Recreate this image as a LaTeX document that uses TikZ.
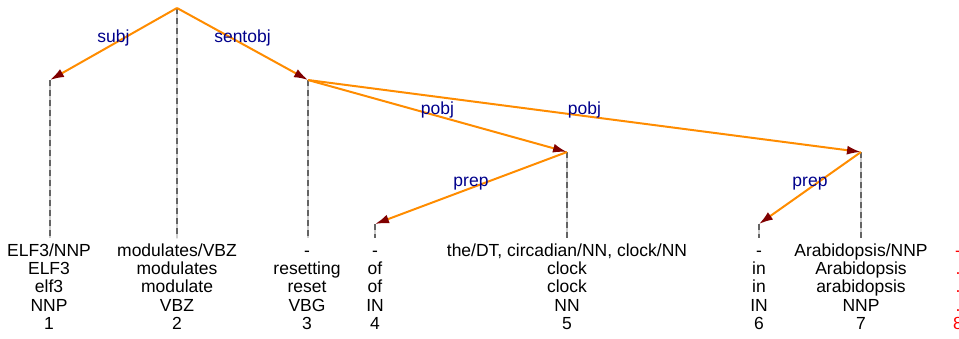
\documentclass[tikz,border=0pt]{standalone}
\usepackage{fontspec}
\setmainfont{Liberation Sans}
\usetikzlibrary{arrows.meta}
\definecolor{edgeorange}{RGB}{255,140,0}
\definecolor{tipred}{RGB}{128,0,0}
\definecolor{labblue}{RGB}{0,0,139}
\definecolor{guidedark}{RGB}{100,100,100}
\definecolor{guidelight}{RGB}{205,205,205}
\definecolor{extrared}{RGB}{255,0,0}

\begin{document}
\begin{tikzpicture}[x=1pt,y=-1pt,
  deprel/.style={draw=edgeorange, line width=2pt,
    -{Latex[length=14pt,width=9pt,color=tipred]}},
  rellabel/.style={text=labblue, font=\fontsize{17.5}{18.3}\selectfont,
    inner sep=0pt, anchor=base, yshift=1.5pt},
  guideback/.style={draw=guidelight, line width=1.6pt},
  guidefront/.style={draw=guidedark, line width=1.6pt, dash pattern=on 6pt off 4pt},
  token/.style={align=center, anchor=north, inner sep=0pt,
    font=\fontsize{17.5}{18.3}\selectfont}
]
\useasboundingbox (0,0) rectangle (959,338);
\clip (0,0) rectangle (959,338);

% head points of each token and the foot of its guide line
\coordinate (h1) at (50,80);
\coordinate (h2) at (177,8);
\coordinate (h3) at (308,80);
\coordinate (h4) at (375,224);
\coordinate (h5) at (567,152);
\coordinate (h6) at (759,224);
\coordinate (h7) at (861,152);
\foreach \i/\x in {1/50,2/177,3/308,4/375,5/567,6/759,7/861}
  \coordinate (f\i) at (\x,238);

% dashed guide lines
\foreach \i in {1,...,7} {
  \draw[guideback] (h\i) -- (f\i);
  \draw[guidefront] (h\i) -- (f\i);
}

% dependency arcs
\draw[deprel] (h2) -- node[rellabel]{subj} (h1);
\draw[deprel] (h2) -- node[rellabel]{sentobj} (h3);
\draw[deprel] (h3) -- node[rellabel]{pobj} (h5);
\draw[deprel] (h3) -- node[rellabel]{pobj} (h7);
\draw[deprel] (h5) -- node[rellabel]{prep} (h4);
\draw[deprel] (h7) -- node[rellabel]{prep} (h6);

% token columns: chunk, word, lemma, tag, index
\node[token] (t1) at (49,243.2) {\strut ELF3/NNP\\ELF3\\elf3\\NNP\\1};
\node[token] (t2) at (177,243.2) {\strut modulates/VBZ\\modulates\\modulate\\VBZ\\2};
\node[token] (t3) at (307,243.2) {\strut -\\resetting\\reset\\VBG\\3};
\node[token] (t4) at (375,243.2) {\strut -\\of\\of\\IN\\4};
\node[token] (t5) at (567,243.2) {\strut the/DT, circadian/NN, clock/NN\\clock\\clock\\NN\\5};
\node[token] (t6) at (759,243.2) {\strut -\\in\\in\\IN\\6};
\node[token] (t7) at (861,243.2) {\strut Arabidopsis/NNP\\Arabidopsis\\arabidopsis\\NNP\\7};
\node[token, text=extrared] (t8) at (958,243.2) {\strut -\\.\\.\\.\\8};
\end{tikzpicture}
\end{document}
